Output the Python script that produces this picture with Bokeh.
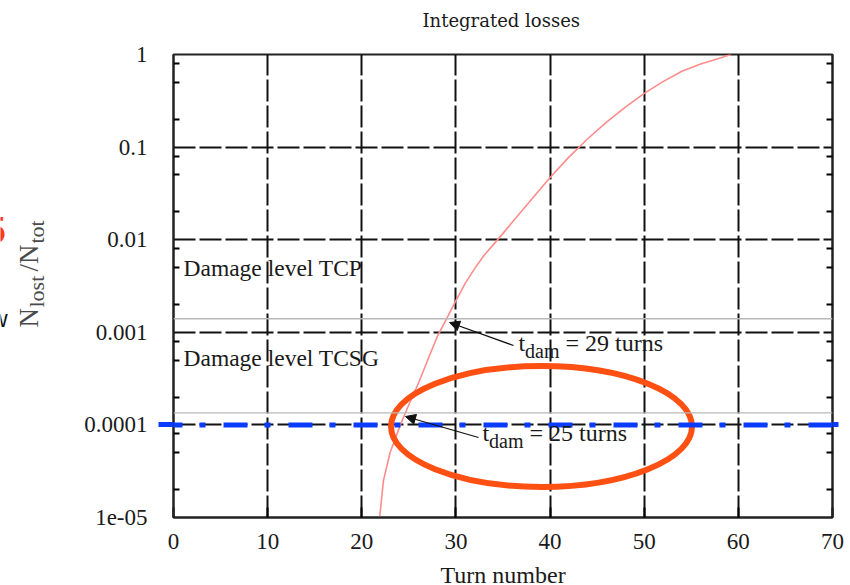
import math
from bokeh.plotting import figure
from bokeh.layouts import row, column
from bokeh.models import FixedTicker, LogAxis, Span, Label, Arrow, NormalHead
from bokeh.embed import file_html
from bokeh.resources import INLINE

# ---------------- data ----------------
turns = [21.9, 22.3, 23.0, 24.1, 25.0, 26.0, 27.0, 28.0, 29.0, 30.0, 31.0, 32.0,
         33.0, 34.0, 35.0, 36.0, 38.0, 40.0, 42.0, 44.0, 46.0, 48.0, 50.0, 52.0,
         54.0, 56.0, 58.0, 59.2]
losses = [1.0e-5, 2.5e-5, 5.0e-5, 1.0e-4, 1.65e-4, 2.8e-4, 5.0e-4, 8.9e-4, 1.4e-3,
          2.2e-3, 3.4e-3, 4.9e-3, 6.8e-3, 8.9e-3, 1.17e-2, 1.55e-2, 2.7e-2, 4.7e-2,
          7.8e-2, 1.23e-1, 1.86e-1, 2.7e-1, 3.8e-1, 5.1e-1, 6.6e-1, 7.9e-1, 9.1e-1, 1.0]

damage_levels = [1.4e-3, 1.35e-4]
damage_names = ["Damage level TCP", "Damage level TCSG"]
t_dam = [29, 25]
blue_level = 1e-4

x_ticks = [0, 10, 20, 30, 40, 50, 60, 70]
y_ticks = [1e-5, 1e-4, 1e-3, 1e-2, 1e-1, 1]
y_tick_labels = ["1e-05", "0.0001", "0.001", "0.01", "0.1", "1"]
y_minor = [2e-5, 5e-5, 8e-5, 2e-4, 5e-4, 8e-4, 2e-3, 5e-3, 8e-3,
           2e-2, 5e-2, 8e-2, 2e-1, 5e-1, 8e-1]

X_MIN, X_MAX = 0, 70
Y_MIN, Y_MAX = 1e-5, 1

# ---------------- layout geometry (page pixels) ----------------
W, H = 850, 585
LW = 60            # left strip: rotated y label
TH = 34            # top strip: title
BH = 24            # bottom strip: x-axis title
FL, FR, FT, FB = 173, 832, 54, 517
BASE = 0.35        # baseline correction (fraction of font size)

SERIF = "Liberation Serif"
INK = "#1a1a1a"
BLUE = "#0a3cff"


def px2x(px):
    return X_MIN + (px - FL) / (FR - FL) * (X_MAX - X_MIN)


def py2y(py):
    lo, hi = math.log10(Y_MIN), math.log10(Y_MAX)
    return 10 ** (hi - (py - FT) / (FB - FT) * (hi - lo))


def blank(width, height, xr, y_top):
    # xr: page-pixel span covered by this strip's frame
    f = figure(width=width, height=height, x_range=xr,
               y_range=(H - y_top - height, H - y_top), output_backend="svg",
               toolbar_location=None, x_axis_location=None, y_axis_location=None,
               min_border_left=0, min_border_right=0, min_border_top=0,
               min_border_bottom=0)
    f.outline_line_color = None
    f.background_fill_color = "white"
    f.border_fill_color = "white"
    f.xgrid.visible = False
    f.ygrid.visible = False
    return f


def hlabel(fig, x, y, text, size, font=SERIF, color=INK, dx=0, dy=0, **kw):
    fig.add_layout(Label(x=x, y=y, text=text, text_font=font,
                         text_font_size=f"{size}px", text_color=color,
                         text_baseline="alphabetic", text_align="left",
                         x_offset=dx, y_offset=dy + BASE * size, **kw))


# ---------------- main plot ----------------
MW, MH = W - LW, H - TH - BH
p = figure(width=MW, height=MH, x_range=(X_MIN, X_MAX), y_range=(Y_MIN, Y_MAX),
           y_axis_type="log", output_backend="svg", toolbar_location=None,
           min_border_left=FL - LW, min_border_right=W - FR,
           min_border_top=FT - TH, min_border_bottom=H - BH - FB)
p.background_fill_color = "white"
p.border_fill_color = "white"
p.outline_line_color = "#222222"
p.outline_line_width = 2

# x axis
xa = p.xaxis[0]
xa.ticker = FixedTicker(ticks=x_ticks)
xa.major_label_text_font = SERIF
xa.major_label_text_font_size = "23px"
xa.major_label_text_color = INK
xa.major_label_standoff = 16
xa.major_tick_in = 10
xa.major_tick_out = 0
xa.major_tick_line_width = 2
xa.axis_line_width = 2
xa.axis_line_color = "#222222"

# left axis next to the frame: minor ticks + blue stub of the threshold line
ya = p.yaxis[0]
ya.ticker = FixedTicker(ticks=[blue_level], minor_ticks=y_minor)
ya.major_label_text_font_size = "1px"
ya.major_label_text_color = None
ya.major_label_standoff = 0
ya.major_tick_in = 0
ya.major_tick_out = 15
ya.major_tick_line_color = BLUE
ya.major_tick_line_width = 5
ya.minor_tick_in = 6
ya.minor_tick_out = 0
ya.minor_tick_line_width = 2
ya.axis_line_width = 2
ya.axis_line_color = "#222222"

# outer left axis carrying the tick labels
yl = LogAxis(ticker=FixedTicker(ticks=y_ticks, minor_ticks=[]),
             major_label_overrides=dict(zip(y_ticks, y_tick_labels)),
             major_label_text_font=SERIF, major_label_text_font_size="23px",
             major_label_text_color=INK, major_label_standoff=5,
             major_tick_line_color=None, minor_tick_line_color=None,
             axis_line_color=None)
p.add_layout(yl, "left")

# right axis: minor ticks + blue stub
ra = LogAxis(ticker=FixedTicker(ticks=[blue_level], minor_ticks=y_minor),
             major_label_text_font_size="1px", major_label_text_color=None,
             major_label_standoff=0, major_tick_in=0, major_tick_out=6,
             major_tick_line_color=BLUE, major_tick_line_width=5,
             minor_tick_in=6, minor_tick_out=0, minor_tick_line_width=2,
             axis_line_width=2, axis_line_color="#222222")
p.add_layout(ra, "right")

# grids
p.xgrid.ticker = FixedTicker(ticks=x_ticks)
p.ygrid.ticker = FixedTicker(ticks=y_ticks)
for g in (p.xgrid[0], p.ygrid[0]):
    g.grid_line_color = "#111111"
    g.grid_line_width = 2
    g.grid_line_dash = "22 4"

# damage level lines
for lvl in damage_levels:
    p.add_layout(Span(location=lvl, dimension="width", line_color="#b8b8b8",
                      line_width=1.3))

# integrated losses curve
p.line(turns, losses, line_color="#ff8c8c", line_width=1.6)

# blue threshold line (dash-dot); starts left of the frame so the dash phase matches
p.add_layout(Arrow(start=None, end=None, x_start=px2x(158), y_start=blue_level,
                   x_end=px2x(838), y_end=blue_level, line_color=BLUE,
                   line_width=5, line_dash="24 17 6 18"))

# damage labels
for name, py in zip(damage_names, [276, 366]):
    hlabel(p, px2x(183), py2y(py), name, 23.5)

# t_dam annotations
t_anchor = [(518, 351), (482, 441)]
arrow_start = [(513, 345), (478, 437)]
arrow_end = [(449, 322), (405, 416)]
for td, (ax, ay), (sx, sy), (ex, ey) in zip(t_dam, t_anchor, arrow_start, arrow_end):
    x0, y0 = px2x(ax), py2y(ay)
    hlabel(p, x0, y0, "t", 24)
    hlabel(p, x0, y0, "dam", 20, dx=6.5, dy=-6)
    hlabel(p, x0, y0, f"= {td} turns", 24, dx=47)
    p.add_layout(Arrow(x_start=px2x(sx), y_start=py2y(sy), x_end=px2x(ex),
                       y_end=py2y(ey), line_color="#111111", line_width=1.3,
                       end=NormalHead(size=10, fill_color="#111111",
                                      line_color="#111111", line_width=1)))

# highlight ellipse
p.ellipse(x=[px2x(541)], y=[py2y(426)], width=301, height=121,
          width_units="screen", height_units="screen", fill_alpha=0,
          line_color="#ff5014", line_width=6)

# ---------------- top strip: title (its frame is aligned with the main frame) ----
t = blank(MW, TH, (FL, FR), 0)
hlabel(t, 422, H - 26.5, "Integrated losses", 18, font="DejaVu Serif")

# ---------------- bottom strip: x-axis title ----------------
b = blank(MW, BH, (FL, FR), H - BH)
hlabel(b, 440, H - 583, "Turn number", 24)

# ---------------- left strip: y label and cut-off slide fragments ----------------
left = blank(LW, H, (0, LW), 0)
for txt, bx, sy, size in [("N", 38, 327, 27), ("lost", 44, 307, 22),
                          ("/N", 38, 271, 27), ("tot", 44, 243, 22)]:
    left.add_layout(Label(x=bx, y=H - sy, text=txt, angle=math.pi / 2,
                          text_font=SERIF, text_font_size=f"{size}px",
                          text_color="#4a4a4a", text_baseline="alphabetic",
                          text_align="left", x_offset=-BASE * size))
hlabel(left, -15.6, H - 242, "5", 37, font="Liberation Sans", color="#ff3c14",
       text_font_style="bold")
hlabel(left, -9.6, H - 327, "w", 23, font="Liberation Sans", color="#111111")

layout = row(left, column(t, p, b, spacing=0), spacing=0)
open("out.html", "w").write(file_html(layout, INLINE))
